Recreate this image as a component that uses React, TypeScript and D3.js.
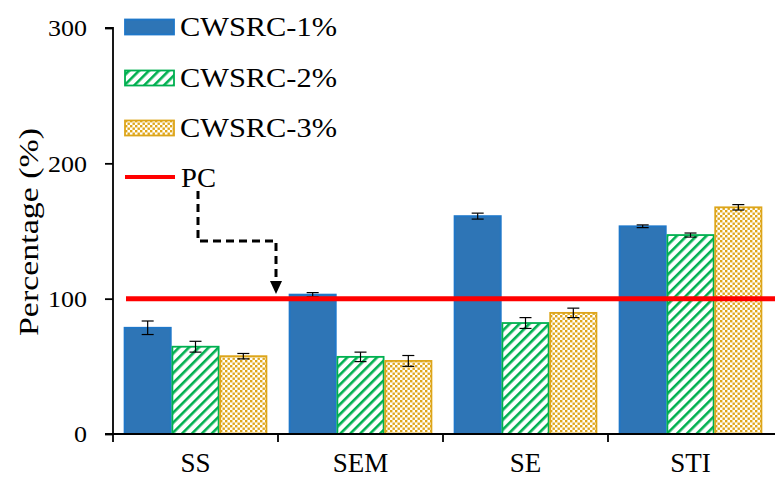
import React, { useEffect, useRef } from 'react';
import * as d3 from 'd3';

const categories = ['SS', 'SEM', 'SE', 'STI'];
const series = ['CWSRC-1%', 'CWSRC-2%', 'CWSRC-3%'];
const values = [
  [78.5, 103, 161, 153.5],
  [64.5, 57, 82, 147],
  [57.5, 54, 89.5, 167.5],
];
const errors = [
  [5, 1.5, 2.2, 1],
  [4, 3.5, 4, 1.5],
  [2, 4, 3.5, 2],
];
const pcValue = 100;
const yTicks = [0, 100, 200, 300];

export default function App() {
  const ref = useRef<SVGSVGElement>(null);

  useEffect(() => {
    const svg = d3.select(ref.current);
    svg.selectAll('*').remove();
    const width = 775;
    const height = 478;
    const margin = { top: 28, right: 2, bottom: 44, left: 113 };
    const font = 'Liberation Serif, Times New Roman, Times, serif';

    const defs = svg.append('defs');
    const stripes = defs.append('pattern')
      .attr('id', 'stripes')
      .attr('patternUnits', 'userSpaceOnUse')
      .attr('width', 7).attr('height', 7)
      .attr('patternTransform', 'rotate(45)');
    stripes.append('rect').attr('width', 7).attr('height', 7).attr('fill', '#fff');
    stripes.append('rect').attr('x', 0).attr('width', 2.6).attr('height', 7).attr('fill', '#00B050');

    const dots = defs.append('pattern')
      .attr('id', 'dots')
      .attr('patternUnits', 'userSpaceOnUse')
      .attr('width', 5).attr('height', 5);
    dots.append('rect').attr('width', 5).attr('height', 5).attr('fill', '#fff');
    dots.append('rect').attr('x', 0).attr('y', 0).attr('width', 2.4).attr('height', 2.4).attr('fill', '#DFA61A');
    dots.append('rect').attr('x', 2.5).attr('y', 2.5).attr('width', 2.4).attr('height', 2.4).attr('fill', '#DFA61A');

    const fills = ['#2E75B6', 'url(#stripes)', 'url(#dots)'];
    const strokes = ['#1F77C8', '#00B050', '#DDA51A'];

    const x0 = d3.scaleBand().domain(categories)
      .range([margin.left, width - margin.right]).paddingInner(0).paddingOuter(0);
    const x1 = d3.scaleBand().domain(series)
      .range([0, x0.bandwidth()]).paddingOuter(0.225).paddingInner(0);
    const y = d3.scaleLinear().domain([0, 300]).range([height - margin.bottom, margin.top]);

    // bars
    series.forEach((s, si) => {
      svg.append('g').selectAll('rect')
        .data(categories)
        .enter()
        .append('rect')
        .attr('x', d => x0(d)! + x1(s)! + 0.8)
        .attr('y', (d, i) => y(values[si][i]))
        .attr('width', x1.bandwidth() - 1.6)
        .attr('height', (d, i) => y(0) - y(values[si][i]))
        .attr('fill', fills[si])
        .attr('stroke', strokes[si])
        .attr('stroke-width', 1.8);
    });

    // error bars
    series.forEach((s, si) => {
      const g = svg.append('g').attr('stroke', '#000').attr('stroke-width', 1.2);
      categories.forEach((c, i) => {
        const cx = x0(c)! + x1(s)! + x1.bandwidth() / 2;
        const lo = y(values[si][i] - errors[si][i]);
        const hi = y(values[si][i] + errors[si][i]);
        g.append('line').attr('x1', cx).attr('x2', cx).attr('y1', lo).attr('y2', hi);
        g.append('line').attr('x1', cx - 6).attr('x2', cx + 6).attr('y1', lo).attr('y2', lo);
        g.append('line').attr('x1', cx - 6).attr('x2', cx + 6).attr('y1', hi).attr('y2', hi);
      });
    });

    // PC line
    svg.append('line')
      .attr('x1', 126).attr('x2', width)
      .attr('y1', y(pcValue)).attr('y2', y(pcValue))
      .attr('stroke', '#FF0000').attr('stroke-width', 5);

    // axes
    const yAxis = svg.append('g')
      .attr('transform', `translate(${margin.left},0)`)
      .call(d3.axisLeft(y).tickValues(yTicks).tickSize(8).tickPadding(18));
    yAxis.select('.domain').attr('stroke', '#000').attr('stroke-width', 1.8).attr('d', `M-8,${y(300)}H0V${y(0)}`);
    yAxis.selectAll('.tick line').attr('stroke', '#000').attr('stroke-width', 1.8);
    yAxis.selectAll('text')
      .attr('font-family', font).attr('font-size', 24).attr('fill', '#000')
      .attr('textLength', d => String(d).length * 13)
      .attr('lengthAdjust', 'spacingAndGlyphs');

    const xAxis = svg.append('g')
      .attr('transform', `translate(0,${y(0)})`);
    xAxis.append('line').attr('x1', margin.left - 8).attr('x2', width)
      .attr('stroke', '#000').attr('stroke-width', 1.8);
    xAxis.selectAll('line.tk')
      .data(categories)
      .enter()
      .append('line')
      .attr('class', 'tk')
      .attr('x1', d => x0(d)!).attr('x2', d => x0(d)!)
      .attr('y1', 0).attr('y2', 8)
      .attr('stroke', '#000').attr('stroke-width', 1.8);
    xAxis.selectAll('text')
      .data(categories)
      .enter()
      .append('text')
      .attr('x', d => x0(d)! + x0.bandwidth() / 2)
      .attr('y', 38)
      .attr('text-anchor', 'middle')
      .attr('font-family', font).attr('font-size', 27)
      .text(d => d);

    svg.append('text')
      .attr('transform', `translate(38,232) rotate(-90)`)
      .attr('text-anchor', 'middle')
      .attr('font-family', font).attr('font-size', 28)
      .attr('textLength', 208).attr('lengthAdjust', 'spacingAndGlyphs')
      .text('Percentage (%)');

    // legend
    const legendY = [27, 78, 128];
    series.forEach((s, si) => {
      svg.append('rect')
        .attr('x', 125).attr('y', legendY[si] - 7.5)
        .attr('width', 49).attr('height', 15)
        .attr('fill', fills[si]).attr('stroke', strokes[si]).attr('stroke-width', 1.8);
      svg.append('text')
        .attr('x', 180).attr('y', legendY[si] + 9)
        .attr('font-family', font).attr('font-size', 28)
        .attr('textLength', 157).attr('lengthAdjust', 'spacingAndGlyphs')
        .text(s);
    });
    svg.append('line')
      .attr('x1', 125).attr('x2', 175).attr('y1', 177).attr('y2', 177)
      .attr('stroke', '#FF0000').attr('stroke-width', 4);
    svg.append('text')
      .attr('x', 181).attr('y', 187)
      .attr('font-family', font).attr('font-size', 28)
      .attr('textLength', 35).attr('lengthAdjust', 'spacingAndGlyphs')
      .text('PC');

    // dashed arrow
    svg.append('path')
      .attr('d', 'M198,191V241H276V284')
      .attr('fill', 'none').attr('stroke', '#000').attr('stroke-width', 3)
      .attr('stroke-dasharray', '8,5');
    svg.append('path')
      .attr('d', 'M270,281L282,281L276,294Z')
      .attr('fill', '#000');
  }, []);

  return (
    <div>
      <svg ref={ref} width={775} height={478} style={{ position: 'absolute', top: 0, left: 0, background: '#fff' }}></svg>
    </div>
  );
}
